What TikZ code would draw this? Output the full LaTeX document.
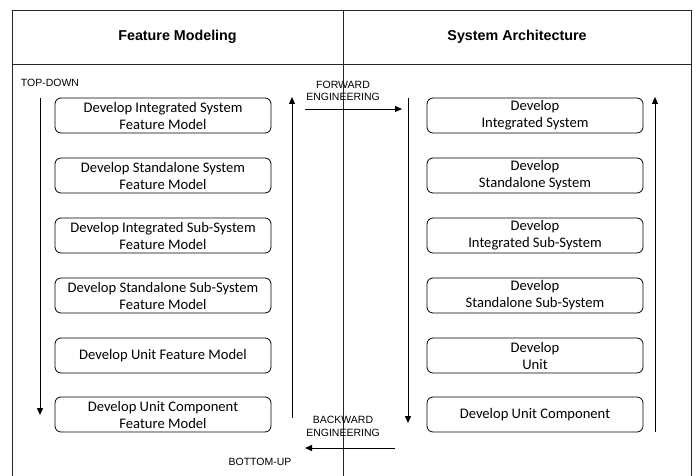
\documentclass[tikz,border=0pt]{standalone}
\usepackage{fontspec}
\setmainfont{Carlito}
\newfontfamily\labelfont{Liberation Sans}
\usetikzlibrary{arrows.meta}

\begin{document}
\begin{tikzpicture}[x=1pt,y=-1pt,
  frame/.style={draw=black!85, line width=0.9pt},
  stage/.style={draw, line width=0.8pt, rounded corners=6pt, minimum width=216pt,
    minimum height=35pt, align=center, inner sep=0pt,
    font=\fontsize{14.6}{17}\selectfont},
  flow/.style={-{Triangle[length=7pt,width=6pt]}, line width=0.9pt},
  lbl/.style={font=\labelfont\fontsize{10.5}{12.5}\selectfont, align=center, inner sep=0pt},
  head/.style={font=\labelfont\bfseries\fontsize{14.3}{16}\selectfont, inner sep=0pt}]

\useasboundingbox (0,0) rectangle (698,476);

% swimlane frame
\draw[frame] (12,476) -- (12,10) -- (691.5,10) -- (691.5,476);
\draw[frame] (12,64) -- (691.5,64);
\draw[frame] (343,10) -- (343,476);

% lane headers
\node[head] (hfm) at (177.5,37) {Feature Modeling};
\node[head] (hsa) at (517,37) {System Architecture};

% feature modeling activities
\node[stage] (f1) at (163,115.5) {Develop Integrated System\\Feature Model};
\node[stage] (f2) at (163,175.5) {Develop Standalone System\\Feature Model};
\node[stage] (f3) at (163,235.5) {Develop Integrated Sub-System\\Feature Model};
\node[stage] (f4) at (163,295.5) {Develop Standalone Sub-System\\Feature Model};
\node[stage] (f5) at (163,355.5) {Develop Unit Feature Model};
\node[stage] (f6) at (163,414.5) {Develop Unit Component\\Feature Model};

% system architecture activities
\node[stage] (s1) at (535,115.5) {Develop\\Integrated System};
\node[stage] (s2) at (535,175.5) {Develop\\Standalone System};
\node[stage] (s3) at (535,235.5) {Develop\\Integrated Sub-System};
\node[stage] (s4) at (535,295.5) {Develop\\Standalone Sub-System};
\node[stage] (s5) at (535,355.5) {Develop\\Unit};
\node[stage] (s6) at (535,414.5) {Develop Unit Component};

% direction labels
\node[lbl] (td) at (50,83) {TOP-DOWN};
\node[lbl] (fe) at (343,91) {FORWARD\\ENGINEERING};
\node[lbl] (be) at (343,426.5) {BACKWARD\\ENGINEERING};
\node[lbl] (bu) at (260,462) {BOTTOM-UP};

% arrow end points
\coordinate (ldA) at (40,98);
\coordinate (ldB) at (40,415);
\coordinate (luA) at (292,418);
\coordinate (luB) at (292,97);
\coordinate (rdA) at (408,98);
\coordinate (rdB) at (408,423);
\coordinate (ruA) at (655,432);
\coordinate (ruB) at (655,97);
\coordinate (fwA) at (305,109);
\coordinate (fwB) at (402,109);
\coordinate (bwA) at (395,448);
\coordinate (bwB) at (305,448);

% flow arrows
\draw[flow] (ldA) -- (ldB);
\draw[flow] (luA) -- (luB);
\draw[flow] (rdA) -- (rdB);
\draw[flow] (ruA) -- (ruB);
\draw[flow] (fwA) -- (fwB);
\draw[flow] (bwA) -- (bwB);
\end{tikzpicture}
\end{document}
